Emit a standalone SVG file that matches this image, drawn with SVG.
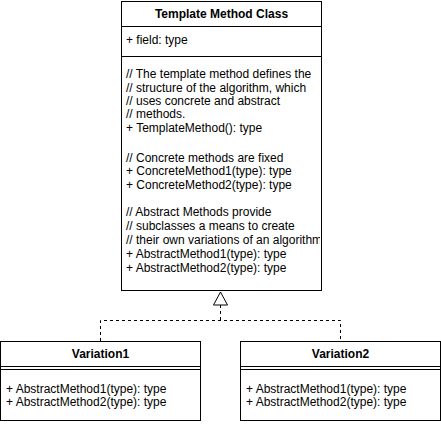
<svg xmlns="http://www.w3.org/2000/svg" width="441" height="424" viewBox="0 0 441 424">
<style>
.box{fill:#fff;stroke:#000;stroke-width:1}
.ln{stroke:#000;stroke-width:1;fill:none}
.t{font-family:"Liberation Sans",Arial,sans-serif;font-size:12px;fill:#000}
.h{font-family:"Liberation Sans",Arial,sans-serif;font-size:12px;font-weight:bold;fill:#000;text-anchor:middle}
.dash{stroke:#000;stroke-width:1;fill:none;stroke-dasharray:3 3}
</style>
<defs>
<clipPath id="clipMain"><rect x="121" y="57" width="199" height="233"/></clipPath>
</defs>
<rect width="441" height="424" fill="#fff"/>
<g id="connectors">
<path class="dash" d="M220.5 305 V320.5 M100.5 341 V320.5 H340.5 V341"/>
<path d="M220.5 292 L227.5 305 L213.5 305 Z" fill="#fff" stroke="#000" stroke-width="1"/>
</g>
<g id="template-method-class">
<rect class="box" x="121.5" y="1.5" width="200" height="289"/>
<line class="ln" x1="121.5" y1="26.5" x2="321.5" y2="26.5"/>
<line class="ln" x1="121.5" y1="56.5" x2="321.5" y2="56.5"/>
<text class="h" x="221.5" y="18">Template Method Class</text>
<text class="t" x="126" y="44">+ field: type</text>
<text class="t" x="126" clip-path="url(#clipMain)">
<tspan x="126" y="78">// The template method defines the</tspan>
<tspan x="126" y="91.5">// structure of the algorithm, which</tspan>
<tspan x="126" y="105">// uses concrete and abstract</tspan>
<tspan x="126" y="118">// methods.</tspan>
<tspan x="126" y="131.5">+ TemplateMethod(): type</tspan>
<tspan x="126" y="161.5">// Concrete methods are fixed</tspan>
<tspan x="126" y="175">+ ConcreteMethod1(type): type</tspan>
<tspan x="126" y="189">+ ConcreteMethod2(type): type</tspan>
<tspan x="126" y="216">// Abstract Methods provide</tspan>
<tspan x="126" y="230">// subclasses a means to create</tspan>
<tspan x="126" y="244">// their own variations of an algorithm</tspan>
<tspan x="126" y="258">+ AbstractMethod1(type): type</tspan>
<tspan x="126" y="272">+ AbstractMethod2(type): type</tspan>
</text>
</g>
<g id="variation1">
<rect class="box" x="0.5" y="341.5" width="200" height="79"/>
<line class="ln" x1="0.5" y1="366.5" x2="200.5" y2="366.5"/>
<line class="ln" x1="0.5" y1="369.5" x2="200.5" y2="369.5"/>
<text class="h" x="100.5" y="358">Variation1</text>
<text class="t" x="6" y="393">+ AbstractMethod1(type): type</text>
<text class="t" x="6" y="406">+ AbstractMethod2(type): type</text>
</g>
<g id="variation2">
<rect class="box" x="240.5" y="341.5" width="200" height="79"/>
<line class="ln" x1="240.5" y1="366.5" x2="440.5" y2="366.5"/>
<line class="ln" x1="240.5" y1="369.5" x2="440.5" y2="369.5"/>
<text class="h" x="340.5" y="358">Variation2</text>
<text class="t" x="246" y="393">+ AbstractMethod1(type): type</text>
<text class="t" x="246" y="406">+ AbstractMethod2(type): type</text>
</g>
</svg>
